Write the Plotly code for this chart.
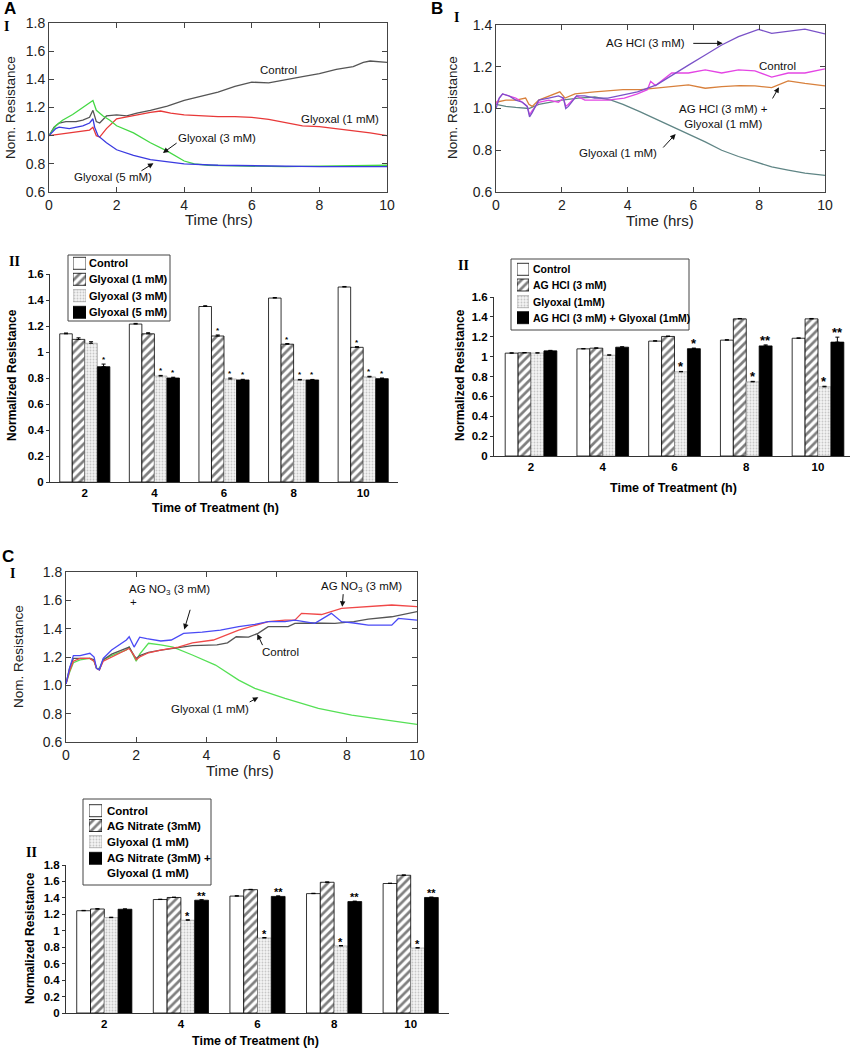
import plotly.graph_objects as go

# ================= DATA =================
# ---- Panel A-I (time courses) ----
A_t_ctrl = [0, 0.15, 0.3, 0.5, 0.8, 1.0, 1.2, 1.3, 1.4, 1.5, 1.7, 2.0, 2.3, 2.6, 3.0, 3.5, 4.0, 4.5, 5.0, 5.5, 6.0, 6.5, 7.0, 7.5, 8.0, 8.5, 9.0, 9.3, 9.5, 10]
A_ctrl = [1.0, 1.06, 1.09, 1.10, 1.10, 1.11, 1.13, 1.18, 1.10, 1.09, 1.14, 1.147, 1.14, 1.16, 1.18, 1.21, 1.25, 1.28, 1.31, 1.35, 1.38, 1.375, 1.40, 1.42, 1.44, 1.47, 1.49, 1.52, 1.53, 1.52]
A_t_g1 = [0, 0.3, 0.6, 1.0, 1.2, 1.3, 1.4, 1.5, 1.7, 2.0, 2.5, 3.0, 3.3, 3.6, 4.0, 4.5, 5.0, 5.5, 6.0, 6.5, 7.0, 7.5, 8.0, 8.5, 9.0, 9.5, 10]
A_g1 = [1.0, 1.01, 1.02, 1.03, 1.04, 1.06, 1.0, 0.99, 1.05, 1.12, 1.145, 1.165, 1.175, 1.16, 1.147, 1.14, 1.135, 1.135, 1.13, 1.115, 1.09, 1.07, 1.064, 1.05, 1.035, 1.02, 1.0]
A_t_g3 = [0, 0.2, 0.4, 0.7, 1.0, 1.2, 1.3, 1.4, 1.6, 1.8, 2.0, 2.5, 3.0, 3.5, 4.0, 4.3, 4.7, 5.5, 7.0, 8.5, 10]
A_g3 = [1.0, 1.07, 1.11, 1.15, 1.20, 1.23, 1.25, 1.18, 1.14, 1.11, 1.07, 1.02, 0.95, 0.89, 0.82, 0.80, 0.79, 0.785, 0.78, 0.785, 0.79]
A_t_g5 = [0, 0.2, 0.3, 0.6, 1.0, 1.2, 1.3, 1.35, 1.45, 1.7, 2.0, 2.5, 3.0, 3.5, 4.0, 5.0, 6.0, 8.0, 10]
A_g5 = [1.0, 1.05, 1.06, 1.05, 1.07, 1.09, 1.12, 1.06, 1.0, 0.95, 0.90, 0.86, 0.83, 0.815, 0.80, 0.79, 0.785, 0.78, 0.78]

# ---- Panel B-I ----
B_t_ag = [0, 0.1, 0.2, 0.4, 0.6, 0.8, 0.95, 1.02, 1.1, 1.3, 1.6, 1.9, 2.05, 2.12, 2.2, 2.45, 2.7, 3.0, 3.4, 3.9, 4.3, 4.88, 5.34, 5.85, 6.36, 6.86, 7.37, 7.98, 8.38, 8.88, 9.39, 10]
B_ag = [1.0, 1.05, 1.07, 1.06, 1.04, 1.03, 1.01, 0.96, 0.98, 1.04, 1.05, 1.06, 1.05, 1.0, 1.01, 1.06, 1.06, 1.05, 1.05, 1.065, 1.08, 1.113, 1.16, 1.208, 1.256, 1.304, 1.344, 1.379, 1.36, 1.37, 1.38, 1.357]
B_t_ctrl = [0, 0.1, 0.2, 0.4, 0.6, 0.8, 0.95, 1.02, 1.1, 1.3, 1.6, 1.9, 2.05, 2.12, 2.2, 2.45, 2.7, 3.0, 3.4, 3.9, 4.3, 4.6, 4.7, 4.85, 5.34, 5.85, 6.36, 6.86, 7.37, 7.87, 8.38, 8.88, 9.39, 10]
B_ctrl = [1.02, 1.05, 1.07, 1.06, 1.05, 1.03, 1.01, 0.97, 0.99, 1.03, 1.04, 1.03, 1.05, 1.01, 1.02, 1.06, 1.04, 1.04, 1.04, 1.05, 1.07, 1.09, 1.13, 1.11, 1.17, 1.17, 1.185, 1.17, 1.185, 1.18, 1.15, 1.17, 1.17, 1.19]
B_t_combo = [0, 0.3, 0.6, 0.9, 1.0, 1.1, 1.3, 1.6, 1.94, 2.1, 2.4, 3.0, 3.5, 3.86, 4.4, 4.83, 5.34, 5.85, 6.36, 6.86, 7.4, 7.87, 8.38, 8.88, 9.39, 10]
B_combo = [1.03, 1.04, 1.04, 1.05, 1.02, 1.01, 1.04, 1.06, 1.08, 1.05, 1.07, 1.08, 1.085, 1.09, 1.09, 1.097, 1.105, 1.113, 1.097, 1.105, 1.11, 1.108, 1.1, 1.132, 1.12, 1.108]
B_t_gly = [0, 0.3, 0.6, 1.0, 1.3, 1.6, 2.0, 2.5, 3.0, 3.5, 3.86, 4.37, 4.85, 5.35, 5.85, 6.36, 6.86, 7.37, 7.87, 8.38, 8.88, 9.39, 10]
B_gly = [1.02, 1.01, 1.005, 1.0, 1.02, 1.03, 1.04, 1.05, 1.055, 1.04, 1.02, 0.985, 0.95, 0.915, 0.88, 0.84, 0.80, 0.77, 0.745, 0.72, 0.705, 0.69, 0.68]

# ---- Panel C-I ----
C_t_blue = [0, 0.1, 0.21, 0.4, 0.68, 0.8, 0.87, 0.95, 1.06, 1.3, 1.72, 1.8, 1.94, 2.1, 2.3, 2.7, 3.0, 3.35, 3.88, 4.4, 4.92, 5.38, 5.76, 6.24, 6.52, 7.09, 7.56, 7.85, 8.2, 8.61, 9.28, 9.47, 10]
C_blue = [1.01, 1.12, 1.21, 1.21, 1.226, 1.2, 1.12, 1.11, 1.19, 1.25, 1.32, 1.343, 1.27, 1.34, 1.33, 1.313, 1.32, 1.367, 1.375, 1.39, 1.414, 1.43, 1.449, 1.45, 1.46, 1.437, 1.508, 1.449, 1.44, 1.425, 1.425, 1.472, 1.46]
C_t_red = [0, 0.1, 0.21, 0.4, 0.68, 0.8, 0.87, 0.95, 1.06, 1.3, 1.72, 1.8, 1.94, 2.0, 2.1, 2.35, 2.7, 3.2, 3.6, 4.2, 4.92, 5.38, 5.76, 6.24, 6.52, 6.71, 7.28, 7.85, 8.61, 9.28, 10]
C_red = [1.01, 1.10, 1.17, 1.19, 1.19, 1.17, 1.12, 1.11, 1.17, 1.20, 1.25, 1.26, 1.21, 1.18, 1.20, 1.23, 1.249, 1.27, 1.30, 1.32, 1.39, 1.42, 1.449, 1.46, 1.46, 1.508, 1.50, 1.544, 1.555, 1.567, 1.555]
C_t_ctrl = [0, 0.1, 0.21, 0.4, 0.68, 0.8, 0.87, 0.95, 1.06, 1.3, 1.72, 1.8, 1.94, 2.0, 2.1, 2.35, 2.7, 3.2, 3.6, 4.3, 4.6, 4.85, 5.2, 5.47, 5.76, 6.33, 6.52, 7.0, 7.66, 8.2, 8.61, 9.28, 10]
C_ctrl = [1.01, 1.12, 1.19, 1.19, 1.19, 1.18, 1.12, 1.11, 1.18, 1.22, 1.26, 1.27, 1.21, 1.19, 1.21, 1.233, 1.249, 1.265, 1.28, 1.285, 1.30, 1.343, 1.34, 1.367, 1.414, 1.414, 1.437, 1.44, 1.437, 1.45, 1.468, 1.484, 1.52]
C_t_gly = [0, 0.1, 0.21, 0.4, 0.68, 0.8, 0.87, 0.95, 1.06, 1.3, 1.72, 1.8, 1.94, 2.0, 2.1, 2.35, 2.7, 3.05, 3.6, 4.26, 4.92, 5.38, 6.24, 7.19, 8.14, 9.09, 10]
C_gly = [1.01, 1.09, 1.16, 1.18, 1.19, 1.17, 1.12, 1.12, 1.18, 1.21, 1.25, 1.27, 1.20, 1.17, 1.22, 1.297, 1.285, 1.27, 1.214, 1.143, 1.037, 0.979, 0.908, 0.838, 0.79, 0.755, 0.725]

# ---- Bar charts ----
bar_times = ["2", "4", "6", "8", "10"]

A2_names = ["Control", "Glyoxal (1 mM)", "Glyoxal (3 mM)", "Glyoxal (5 mM)"]
A2_control = [1.14, 1.215, 1.35, 1.415, 1.50]
A2_gly1 = [1.097, 1.14, 1.123, 1.06, 1.036]
A2_gly3 = [1.067, 0.815, 0.792, 0.785, 0.808]
A2_gly5 = [0.887, 0.80, 0.785, 0.785, 0.795]
A2_err_control = [0.006, 0.005, 0.006, 0.004, 0.004]
A2_err_gly1 = [0.012, 0.008, 0.008, 0.005, 0.005]
A2_err_gly3 = [0.012, 0.005, 0.008, 0.004, 0.005]
A2_err_gly5 = [0.02, 0.006, 0.005, 0.004, 0.005]
A2_star_control = ["", "", "", "", ""]
A2_star_gly1 = ["", "", "*", "*", "*"]
A2_star_gly3 = ["", "*", "*", "*", "*"]
A2_star_gly5 = ["*", "*", "*", "*", "*"]

B2_names = ["Control", "AG HCl (3 mM)", "Glyoxal (1mM)", "AG HCl (3 mM) + Glyoxal (1mM)"]
B2_control = [1.035, 1.078, 1.156, 1.166, 1.185]
B2_ag = [1.038, 1.085, 1.203, 1.38, 1.38]
B2_gly = [1.036, 1.014, 0.847, 0.746, 0.696]
B2_combo = [1.058, 1.095, 1.08, 1.108, 1.146]
B2_err_control = [0.003, 0.003, 0.004, 0.004, 0.003]
B2_err_ag = [0.003, 0.003, 0.004, 0.004, 0.004]
B2_err_gly = [0.003, 0.004, 0.004, 0.005, 0.006]
B2_err_combo = [0.005, 0.004, 0.006, 0.01, 0.05]
B2_star_control = ["", "", "", "", ""]
B2_star_ag = ["", "", "", "", ""]
B2_star_gly = ["", "", "*", "*", "*"]
B2_star_combo = ["", "", "*", "**", "**"]

C2_names = ["Control", "AG Nitrate (3mM)", "Glyoxal (1 mM)", "AG Nitrate (3mM) +<br>Glyoxal (1 mM)"]
C2_control = [1.244, 1.38, 1.422, 1.452, 1.575]
C2_agn = [1.265, 1.405, 1.50, 1.59, 1.675]
C2_gly = [1.16, 1.128, 0.912, 0.815, 0.79]
C2_combo = [1.262, 1.372, 1.418, 1.355, 1.405]
C2_err_control = [0.004, 0.004, 0.004, 0.004, 0.004]
C2_err_agn = [0.004, 0.004, 0.004, 0.004, 0.004]
C2_err_gly = [0.005, 0.006, 0.006, 0.006, 0.005]
C2_err_combo = [0.004, 0.006, 0.006, 0.006, 0.005]
C2_star_control = ["", "", "", "", ""]
C2_star_agn = ["", "", "", "", ""]
C2_star_gly = ["", "*", "*", "*", "*"]
C2_star_combo = ["", "**", "**", "**", "**"]

bar_yticks_16 = [0, 0.2, 0.4, 0.6, 0.8, 1.0, 1.2, 1.4, 1.6]
bar_ytext_16 = ["0", "0.2", "0.4", "0.6", "0.8", "1", "1.2", "1.4", "1.6"]
bar_yticks_18 = [0, 0.2, 0.4, 0.6, 0.8, 1.0, 1.2, 1.4, 1.6, 1.8]
bar_ytext_18 = ["0", "0.2", "0.4", "0.6", "0.8", "1", "1.2", "1.4", "1.6", "1.8"]

# ================= LAYOUT HELPERS =================
W, H = 850, 1050
def fx(p):
    return p / W
def fy(p):
    return 1 - p / H

SANS = "Liberation Sans"
SERIF = "Liberation Serif"
BARGAP = 0.28

fig = go.Figure()

def add_line(t, v, color, ax):
    fig.add_trace(go.Scatter(x=t, y=v, mode="lines", line=dict(color=color, width=1.3),
                             showlegend=False, xaxis="x" + ax, yaxis="y" + ax, hoverinfo="skip"))

# A-I
add_line(A_t_ctrl, A_ctrl, "#555555", "")
add_line(A_t_g1, A_g1, "#e83838", "")
add_line(A_t_g3, A_g3, "#44d844", "")
add_line(A_t_g5, A_g5, "#3a3ae0", "")
# B-I
add_line(B_t_gly, B_gly, "#5f8585", "2")
add_line(B_t_combo, B_combo, "#d8803c", "2")
add_line(B_t_ctrl, B_ctrl, "#e445e4", "2")
add_line(B_t_ag, B_ag, "#7a52c8", "2")
# C-I
add_line(C_t_gly, C_gly, "#55e055", "5")
add_line(C_t_ctrl, C_ctrl, "#555555", "5")
add_line(C_t_red, C_red, "#f04848", "5")
add_line(C_t_blue, C_blue, "#4a4af5", "5")

styles = [
    dict(color="white", line=dict(color="black", width=0.8)),
    dict(color="white", line=dict(color="black", width=0.8),
         pattern=dict(shape="/", fgcolor="black", bgcolor="white", size=6, solidity=0.45)),
    dict(color="#f2f2f2", line=dict(color="#888888", width=0.6),
         pattern=dict(shape=".", fgcolor="#9a9a9a", bgcolor="#f4f4f4", size=3, solidity=0.3)),
    dict(color="black", line=dict(color="black", width=0.8)),
]

annotations = []
shapes = []
idx = list(range(len(bar_times)))

def add_bars(names, vals_list, err_list, star_list, ax, star_size, star_shift):
    n = len(names)
    w = (1 - BARGAP) / n
    for k in range(n):
        fig.add_trace(go.Bar(x=idx, y=vals_list[k], name=names[k], marker=styles[k],
                             error_y=dict(type="data", array=err_list[k], arrayminus=[0] * len(idx),
                                          symmetric=False, color="black", thickness=1, width=2),
                             xaxis="x" + ax, yaxis="y" + ax, showlegend=False, hoverinfo="skip"))
        for i in idx:
            s = star_list[k][i]
            if s:
                annotations.append(dict(x=i + (k - (n - 1) / 2) * w, y=vals_list[k][i] + err_list[k][i],
                                        xref="x" + ax, yref="y" + ax, text=s, showarrow=False,
                                        yanchor="bottom", yshift=star_shift,
                                        font=dict(family=SANS, size=star_size, color="black", weight="bold")))

add_bars(A2_names, [A2_control, A2_gly1, A2_gly3, A2_gly5],
         [A2_err_control, A2_err_gly1, A2_err_gly3, A2_err_gly5],
         [A2_star_control, A2_star_gly1, A2_star_gly3, A2_star_gly5], "3", 8, -2)
add_bars(B2_names, [B2_control, B2_ag, B2_gly, B2_combo],
         [B2_err_control, B2_err_ag, B2_err_gly, B2_err_combo],
         [B2_star_control, B2_star_ag, B2_star_gly, B2_star_combo], "4", 13, -5)
add_bars(C2_names, [C2_control, C2_agn, C2_gly, C2_combo],
         [C2_err_control, C2_err_agn, C2_err_gly, C2_err_combo],
         [C2_star_control, C2_star_agn, C2_star_gly, C2_star_combo], "6", 11, -4)

# ---------------- legends (boxed key with patterned swatches) ----------------
legend_axes = {}
def add_key(names, ax, box, rows, sw_x, text_x, size, sw_h=12):
    x0, y0, x1, y1 = box
    for k, name in enumerate(names):
        fig.add_trace(go.Bar(x=[0], y=[sw_h], base=[rows[k] - sw_h / 2], width=[1], offset=-0.5,
                             marker=styles[k], showlegend=False, hoverinfo="skip",
                             xaxis="x" + ax, yaxis="y" + ax))
        annotations.append(dict(x=fx(text_x), y=fy(rows[k] - 8), xref="paper", yref="paper", text=name,
                                showarrow=False, xanchor="left", yanchor="top", align="left",
                                font=dict(family=SANS, size=size, color="black", weight="bold")))
    legend_axes["xaxis" + ax] = dict(domain=[fx(sw_x[0]), fx(sw_x[1])], range=[-0.5, 0.5], visible=False,
                                     anchor="y" + ax, fixedrange=True)
    legend_axes["yaxis" + ax] = dict(domain=[fy(y1), fy(y0)], range=[y1, y0], visible=False,
                                     anchor="x" + ax, fixedrange=True)
    shapes.append(dict(type="rect", xref="paper", yref="paper", x0=fx(x0), x1=fx(x1), y0=fy(y1), y1=fy(y0),
                       line=dict(color="#444", width=1), fillcolor="rgba(0,0,0,0)", layer="above"))

add_key(A2_names, "7", (68, 255, 170, 321), [263.3, 279.3, 295.7, 312.3], (73, 86), 87, 11)
add_key(B2_names, "8", (511, 259, 689, 330), [269.3, 285, 301.7, 317.7], (517, 529), 531, 10.5)
add_key(C2_names, "9", (83, 799, 211, 885), [810.7, 825.5, 841.7, 858.3], (89, 102), 105, 11.5)

# ---------------- axes ----------------
line_tickfont = dict(family=SANS, size=14, color="#222222")
def line_x(dom, anchor):
    return dict(domain=[fx(dom[0]), fx(dom[1])], anchor=anchor, range=[0, 10], dtick=2,
                showline=True, linecolor="#444", linewidth=1, mirror="ticks", ticks="inside",
                ticklen=5, tickcolor="#444", showgrid=False, zeroline=False, tickfont=line_tickfont,
                automargin=False)
def line_y(dom, anchor, rng):
    return dict(domain=[fy(dom[1]), fy(dom[0])], anchor=anchor, range=rng, dtick=0.2, tickformat=".1f",
                showline=True, linecolor="#444", linewidth=1, mirror="ticks", ticks="inside",
                ticklen=5, tickcolor="#444", showgrid=False, zeroline=False, tickfont=line_tickfont,
                automargin=False)

bar_tickfont = dict(family=SANS, size=11.5, color="black", weight="bold")
def bar_x(dom, anchor, rng):
    return dict(domain=[fx(dom[0]), fx(dom[1])], anchor=anchor, range=rng, tickvals=idx, ticktext=bar_times,
                showline=True, linecolor="#333", linewidth=1, ticks="", showgrid=False, zeroline=False,
                tickfont=bar_tickfont, automargin=False)
def bar_y(dom, anchor, rng, tv, tt):
    return dict(domain=[fy(dom[1]), fy(dom[0])], anchor=anchor, range=rng, tickvals=tv, ticktext=tt,
                showline=True, linecolor="#333", linewidth=1, ticks="outside", ticklen=3, tickcolor="#333",
                showgrid=False, zeroline=False, tickfont=bar_tickfont, automargin=False)

layout_axes = dict(
    xaxis=line_x((49, 387), "y"), yaxis=line_y((23, 192), "x", [0.6, 1.8]),
    xaxis2=line_x((496, 825), "y2"), yaxis2=line_y((25, 192), "x2", [0.6, 1.4]),
    xaxis3=bar_x((50, 398), "y3", [-0.5, 4.5]), yaxis3=bar_y((274, 482), "x3", [0, 1.6], bar_yticks_16, bar_ytext_16),
    xaxis4=bar_x((494, 850), "y4", [-0.516, 4.446]), yaxis4=bar_y((297, 456), "x4", [0, 1.6], bar_yticks_16, bar_ytext_16),
    xaxis5=line_x((66, 417), "y5"), yaxis5=line_y((572, 742), "x5", [0.6, 1.8]),
    xaxis6=bar_x((66, 449), "y6", [-0.5, 4.5]), yaxis6=bar_y((865, 1013), "x6", [0, 1.8], bar_yticks_18, bar_ytext_18),
)
layout_axes.update(legend_axes)

# ---------------- text annotations ----------------
def ptext(x, y, text, size, family=SANS, weight="normal", angle=0, color="#111"):
    annotations.append(dict(x=fx(x), y=fy(y), xref="paper", yref="paper", text=text, showarrow=False,
                            xanchor="center", yanchor="middle", textangle=angle,
                            font=dict(family=family, size=size, color=color, weight=weight)))

# panel letters and roman numerals
ptext(10, 8, "A", 17, weight="bold", color="black")
ptext(437, 8, "B", 17, weight="bold", color="black")
ptext(8, 556, "C", 17, weight="bold", color="black")
ptext(6, 27, "I", 14, family=SERIF, weight="bold", color="black")
ptext(456, 17, "I", 14, family=SERIF, weight="bold", color="black")
ptext(12, 573, "I", 14, family=SERIF, weight="bold", color="black")
ptext(14, 262, "II", 14, family=SERIF, weight="bold", color="black")
ptext(463, 265, "II", 14, family=SERIF, weight="bold", color="black")
ptext(32, 852, "II", 14, family=SERIF, weight="bold", color="black")

# axis titles
ptext(10, 108, "Nom. Resistance", 13.5, angle=-90, color="#222")
ptext(219, 219, "Time (hrs)", 15, color="#222")
ptext(452, 108, "Nom. Resistance", 13.5, angle=-90, color="#222")
ptext(660, 220, "Time (hrs)", 15, color="#222")
ptext(18, 657, "Nom. Resistance", 13.5, angle=-90, color="#222")
ptext(240, 770, "Time (hrs)", 15, color="#222")
ptext(12, 375, "Normalized Resistance", 12, weight="bold", angle=-90, color="black")
ptext(215, 508, "Time of Treatment (h)", 12.5, weight="bold", color="black")
ptext(460, 375, "Normalized Resistance", 12, weight="bold", angle=-90, color="black")
ptext(673, 488, "Time of Treatment (h)", 12.5, weight="bold", color="black")
ptext(30, 938, "Normalized Resistance", 12, weight="bold", angle=-90, color="black")
ptext(255, 1041, "Time of Treatment (h)", 12.5, weight="bold", color="black")

# in-plot curve labels (data coordinates)
def dtext(x, y, text, ax):
    annotations.append(dict(x=x, y=y, xref="x" + ax, yref="y" + ax, text=text, showarrow=False,
                            xanchor="center", yanchor="middle",
                            font=dict(family=SANS, size=11.5, color="#111")))
def darrow(tx, ty, hx, hy, ax):
    annotations.append(dict(x=hx, y=hy, ax=tx, ay=ty, xref="x" + ax, yref="y" + ax,
                            axref="x" + ax, ayref="y" + ax, text="", showarrow=True,
                            arrowhead=2, arrowsize=1.1, arrowwidth=1, arrowcolor="#111"))

dtext(6.8, 1.466, "Control", "")
dtext(8.61, 1.118, "Glyoxal (1 mM)", "")
dtext(4.97, 0.98, "Glyoxal (3 mM)", "")
darrow(3.82, 0.955, 3.37, 0.877, "")
dtext(1.89, 0.71, "Glyoxal (5 mM)", "")
darrow(2.69, 0.744, 3.09, 0.804, "")

dtext(4.53, 1.314, "AG HCl (3 mM)", "2")
darrow(5.95, 1.312, 6.89, 1.312, "2")
dtext(8.57, 1.204, "Control", "2")
dtext(6.9, 0.964, "AG HCl (3 mM) +<br>Glyoxal (1 mM)", "2")
darrow(8.38, 1.041, 8.6, 1.102, "2")
dtext(3.71, 0.787, "Glyoxal (1 mM)", "2")
darrow(5.04, 0.806, 5.46, 0.878, "2")

dtext(2.96, 1.673, "AG NO<sub>3</sub> (3 mM)", "5")
dtext(1.91, 1.588, "+", "5")
darrow(3.55, 1.544, 3.37, 1.395, "5")
dtext(8.43, 1.694, "AG NO<sub>3</sub> (3 mM)", "5")
darrow(7.9, 1.654, 7.87, 1.555, "5")
dtext(6.1, 1.235, "Control", "5")
darrow(5.62, 1.273, 5.45, 1.362, "5")
dtext(4.1, 0.833, "Glyoxal (1 mM)", "5")
darrow(5.19, 0.877, 5.48, 0.915, "5")

fig.update_layout(
    width=W, height=H, autosize=False,
    margin=dict(l=0, r=0, t=0, b=0, autoexpand=False),
    paper_bgcolor="white", plot_bgcolor="rgba(0,0,0,0)",
    barmode="group", bargap=BARGAP, bargroupgap=0,
    showlegend=False,
    annotations=annotations,
    shapes=shapes,
    **layout_axes,
)

fig.write_html("out.html", config={"displayModeBar": False},
               post_script="document.body.style.margin='0';document.body.style.overflow='hidden';")
